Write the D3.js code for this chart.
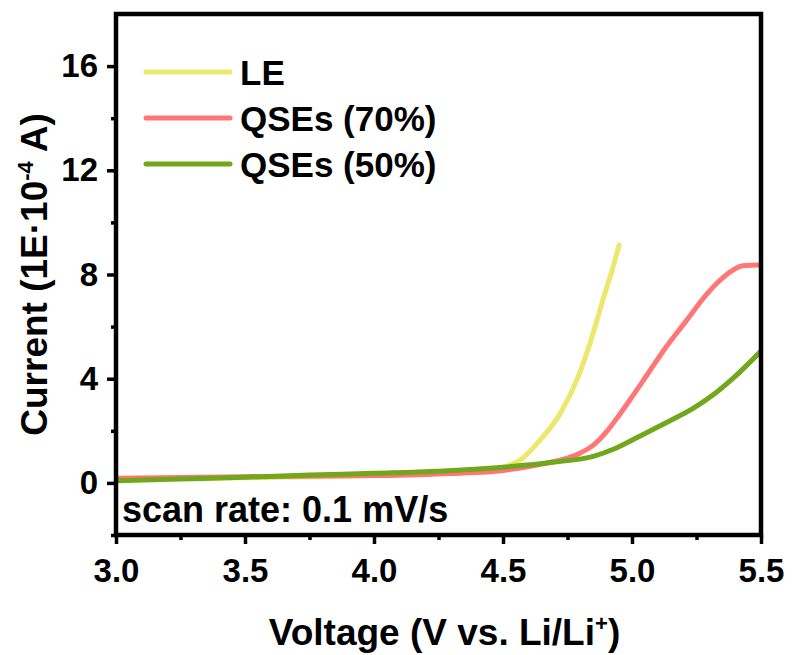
<!DOCTYPE html>
<html>
<head>
<meta charset="utf-8">
<script src="https://cdn.jsdelivr.net/npm/d3@7"></script>
<style>
  body { margin: 0; background: #fff; }
  svg text { font-family: "Liberation Sans", Arial, sans-serif; font-weight: bold; fill: #000; }
</style>
</head>
<body>
<div id="chart"></div>
<script>
// Data (voltage in V, current in 1E-4 A)
const leVoltage = [3.0, 3.5, 4.0, 4.3, 4.4, 4.47, 4.52, 4.57, 4.64, 4.72, 4.79, 4.84, 4.89, 4.93, 4.95];
const leCurrent = [0.15, 0.2, 0.28, 0.4, 0.46, 0.54, 0.66, 0.9, 1.6, 2.63, 4.04, 5.45, 7.12, 8.4, 9.14];

const qse70Voltage = [3.0, 3.5, 4.0, 4.3, 4.5, 4.65, 4.8, 4.85, 4.9, 4.95, 5.0, 5.06, 5.13, 5.21, 5.29, 5.37, 5.43, 5.5];
const qse70Current = [0.18, 0.24, 0.28, 0.36, 0.48, 0.72, 1.15, 1.45, 1.95, 2.6, 3.3, 4.17, 5.19, 6.22, 7.25, 8.02, 8.34, 8.36];

const qse50Voltage = [3.0, 3.25, 3.5, 3.75, 4.0, 4.25, 4.5, 4.7, 4.85, 4.93, 5.03, 5.13, 5.24, 5.32, 5.39, 5.5];
const qse50Current = [0.08, 0.15, 0.22, 0.3, 0.37, 0.45, 0.6, 0.8, 1.02, 1.3, 1.79, 2.3, 2.88, 3.42, 4.0, 5.06];

const seriesNames = ["LE", "QSEs (70%)", "QSEs (50%)"];
const seriesColors = ["#ece86e", "#ff7676", "#70a71b"];

const xTicks = [3.0, 3.5, 4.0, 4.5, 5.0, 5.5];
const xMinorTicks = [3.25, 3.75, 4.25, 4.75, 5.25];
const yTicks = [0, 4, 8, 12, 16];
const yMinorTicks = [-2, 2, 6, 10, 14];

const width = 793;
const height = 655;
const margin = { top: 14, right: 32, bottom: 120, left: 116 };
const chartWidth = width - margin.left - margin.right;
const chartHeight = height - margin.top - margin.bottom;

const svg = d3.select("#chart")
    .append("svg")
    .attr("width", width)
    .attr("height", height);

const chart = svg.append("g")
    .attr("transform", `translate(${margin.left}, ${margin.top})`);

const xScale = d3.scaleLinear().domain([3.0, 5.5]).range([0, chartWidth]);
const yScale = d3.scaleLinear().domain([-2, 18]).range([chartHeight, 0]);

const series = [
    { name: seriesNames[0], color: seriesColors[0], data: leVoltage.map((v, i) => [v, leCurrent[i]]) },
    { name: seriesNames[1], color: seriesColors[1], data: qse70Voltage.map((v, i) => [v, qse70Current[i]]) },
    { name: seriesNames[2], color: seriesColors[2], data: qse50Voltage.map((v, i) => [v, qse50Current[i]]) }
];

const line = d3.line()
    .curve(d3.curveMonotoneX)
    .x(d => xScale(d[0]))
    .y(d => yScale(d[1]));

// clip so thick lines don't poke past the frame
chart.append("clipPath").attr("id", "clip")
    .append("rect").attr("width", chartWidth).attr("height", chartHeight);

chart.append("g").attr("clip-path", "url(#clip)")
    .selectAll("path")
    .data(series)
    .enter()
    .append("path")
    .attr("fill", "none")
    .attr("stroke", d => d.color)
    .attr("stroke-width", 5)
    .attr("stroke-linecap", "round")
    .attr("stroke-linejoin", "round")
    .attr("d", d => line(d.data));

// Axes
const xAxis = d3.axisBottom(xScale).tickValues(xTicks).tickFormat(d3.format(".1f")).tickSize(9).tickPadding(15);
const xMinor = d3.axisBottom(xScale).tickValues(xMinorTicks).tickFormat("").tickSize(5);
const yAxis = d3.axisLeft(yScale).tickValues(yTicks).tickFormat(d3.format("d")).tickSize(9).tickPadding(9);
const yMinor = d3.axisLeft(yScale).tickValues(yMinorTicks).tickFormat("").tickSize(5);

function styleAxis(g) {
    g.select(".domain").remove();
    g.selectAll("line").attr("stroke", "#000").attr("stroke-width", 3.5);
    g.selectAll("text").style("font-size", "33px");
}

chart.append("g").attr("transform", `translate(0, ${chartHeight})`).call(xAxis).call(styleAxis);
chart.append("g").attr("transform", `translate(0, ${chartHeight})`).call(xMinor).call(styleAxis);
chart.append("g").call(yAxis).call(styleAxis);
chart.append("g").call(yMinor).call(styleAxis);

// Frame
chart.append("rect")
    .attr("width", chartWidth)
    .attr("height", chartHeight)
    .attr("fill", "none")
    .attr("stroke", "#000")
    .attr("stroke-width", 4.5);

// Axis titles
svg.append("text")
    .attr("x", margin.left + chartWidth / 2 + 6)
    .attr("y", 645)
    .attr("text-anchor", "middle")
    .style("font-size", "37px")
    .html('Voltage (V vs. Li/Li<tspan dy="-14" font-size="22px">+</tspan><tspan dy="14">)</tspan>');

svg.append("text")
    .attr("transform", `translate(47, ${margin.top + chartHeight / 2}) rotate(-90)`)
    .attr("text-anchor", "middle")
    .style("font-size", "37px")
    .html('Current (1E·10<tspan dy="-14" font-size="22px">-4</tspan><tspan dy="14"> A)</tspan>');

// Legend
const legend = chart.append("g").attr("transform", `translate(30, 58)`);
const legendItems = legend.selectAll("g")
    .data(series)
    .enter()
    .append("g")
    .attr("transform", (d, i) => `translate(0, ${i * 46})`);

legendItems.append("line")
    .attr("x1", 0).attr("x2", 84)
    .attr("stroke", d => d.color)
    .attr("stroke-width", 5)
    .attr("stroke-linecap", "round");

legendItems.append("text")
    .attr("x", 94)
    .attr("dy", "0.36em")
    .style("font-size", "35px")
    .text(d => d.name);

// Annotation
chart.append("text")
    .attr("x", 6)
    .attr("y", 508)
    .style("font-size", "36px")
    .text("scan rate: 0.1 mV/s");
</script>
</body>
</html>
